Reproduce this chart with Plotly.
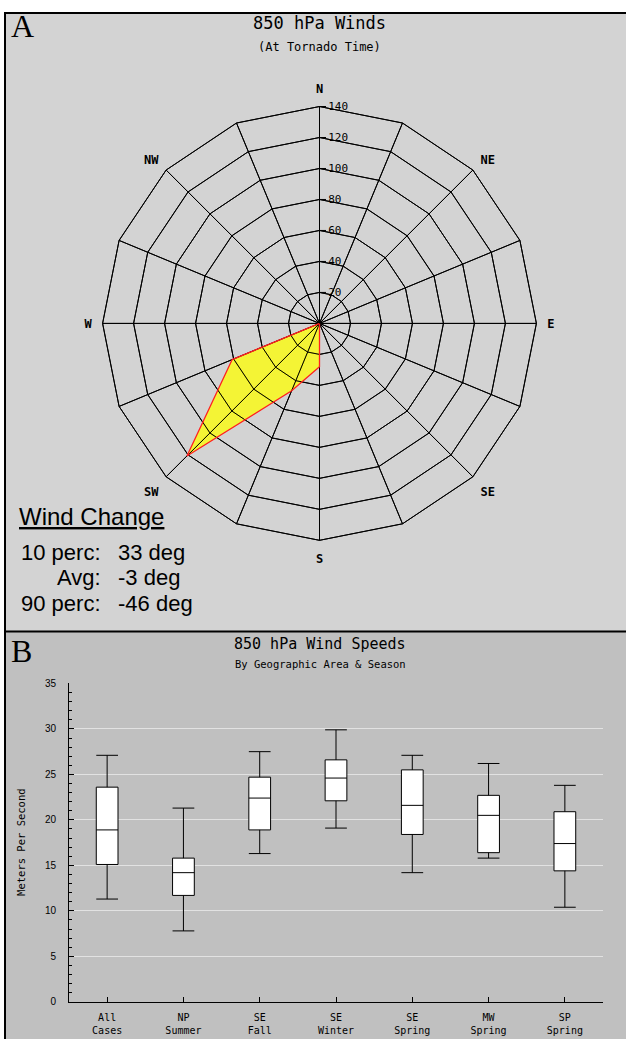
import plotly.graph_objects as go

W, H = 626, 1044

# ---------------- data ----------------
directions = ["N", "NNE", "NE", "ENE", "E", "ESE", "SE", "SSE",
              "S", "SSW", "SW", "WSW", "W", "WNW", "NW", "NNW"]
direction_labels = ["N", "", "NE", "", "E", "", "SE", "",
                    "S", "", "SW", "", "W", "", "NW", ""]
wind_r = [0, 0, 0, 0, 0, 0, 0, 0, 28, 47, 121, 61, 0, 0, 0, 0]
radial_ticks = [20, 40, 60, 80, 100, 120, 140]

change_labels = ["10 perc:", "Avg:", "90 perc:"]
change_values = ["33 deg", "-3 deg", "-46 deg"]

box_cats = ["All<br>Cases", "NP<br>Summer", "SE<br>Fall", "SE<br>Winter",
            "SE<br>Spring", "MW<br>Spring", "SP<br>Spring"]
upper_fence = [27.1, 21.3, 27.5, 29.9, 27.1, 26.2, 23.8]
q3_vals = [23.6, 15.8, 24.7, 26.6, 25.5, 22.7, 20.9]
median_vals = [18.9, 14.2, 22.4, 24.6, 21.6, 20.5, 17.4]
q1_vals = [15.1, 11.7, 18.9, 22.1, 18.4, 16.4, 14.4]
lower_fence = [11.3, 7.8, 16.3, 19.1, 14.2, 15.8, 10.4]


def px(x):
    return x / W


def py(y):
    return 1 - y / H


MONO = "DejaVu Sans Mono"
polar_domain = dict(x=[px(100.5), px(538.5)], y=[py(540.5), py(102.5)])

fig = go.Figure()

# wind polygon fill (under the grid)
fig.add_trace(go.Scatterpolar(
    r=wind_r + [wind_r[0]],
    theta=directions + [directions[0]],
    mode="lines",
    fill="toself",
    fillcolor="rgba(255,255,0,0.75)",
    line=dict(color="rgba(0,0,0,0)", width=0),
    subplot="polar",
    showlegend=False,
    hoverinfo="skip",
))

# wind polygon outline (above the grid)
fig.add_trace(go.Scatterpolar(
    r=wind_r + [wind_r[0]],
    theta=directions + [directions[0]],
    mode="lines",
    line=dict(color="#ff2020", width=1.3),
    subplot="polar2",
    showlegend=False,
    hoverinfo="skip",
))

# box plot
fig.add_trace(go.Box(
    x=box_cats,
    q1=q1_vals, median=median_vals, q3=q3_vals,
    lowerfence=lower_fence, upperfence=upper_fence,
    fillcolor="white",
    line=dict(color="black", width=1),
    whiskerwidth=1,
    width=0.285,
    boxpoints=False,
    showlegend=False,
    xaxis="x", yaxis="y",
))

shapes = [
    dict(type="rect", xref="paper", yref="paper", x0=px(5), x1=px(626), y0=py(632), y1=py(8),
         fillcolor="#d3d3d3", line=dict(width=0), layer="below"),
    dict(type="rect", xref="paper", yref="paper", x0=px(5), x1=px(626), y0=py(1044), y1=py(633),
         fillcolor="#c0c0c0", line=dict(width=0), layer="below"),
    dict(type="line", xref="paper", yref="paper", x0=px(5), x1=px(5), y0=py(1044), y1=py(7),
         line=dict(color="black", width=2), layer="below"),
    dict(type="line", xref="paper", yref="paper", x0=px(4), x1=px(626), y0=py(8), y1=py(8),
         line=dict(color="black", width=2), layer="below"),
    dict(type="line", xref="paper", yref="paper", x0=px(4), x1=px(626), y0=py(632.5), y1=py(632.5),
         line=dict(color="black", width=2), layer="below"),
]

annotations = [
    dict(text="A", x=px(9), y=py(21), xanchor="left", yanchor="middle",
         font=dict(family="Liberation Serif", size=32, color="black")),
    dict(text="B", x=px(9), y=py(652), xanchor="left", yanchor="middle",
         font=dict(family="Liberation Serif", size=32, color="black")),
    dict(text="850 hPa Winds", x=px(319), y=py(18), xanchor="center", yanchor="middle",
         font=dict(family=MONO, size=17, color="black")),
    dict(text="(At Tornado Time)", x=px(319), y=py(42), xanchor="center", yanchor="middle",
         font=dict(family=MONO, size=12, color="black")),
    dict(text="850 hPa Wind Speeds", x=px(320), y=py(645), xanchor="center", yanchor="middle",
         font=dict(family=MONO, size=15, color="black")),
    dict(text="By Geographic Area & Season", x=px(320), y=py(665), xanchor="center", yanchor="middle",
         font=dict(family=MONO, size=10.5, color="black")),
    dict(text="<u>Wind Change</u>", x=px(17), y=py(516), xanchor="left", yanchor="middle",
         font=dict(family="Liberation Sans", size=24, color="black")),
    dict(text="Meters Per Second", x=px(21), y=py(846), xanchor="center", yanchor="middle",
         textangle=-90, font=dict(family=MONO, size=10.5, color="black")),
]
row_y = [553, 578, 604]
for lab, val, yy in zip(change_labels, change_values, row_y):
    annotations.append(dict(text=lab, x=px(103), y=py(yy), xanchor="right", yanchor="middle",
                            font=dict(family="Liberation Sans", size=22, color="black")))
    annotations.append(dict(text=val, x=px(116), y=py(yy), xanchor="left", yanchor="middle",
                            font=dict(family="Liberation Sans", size=22, color="black")))
for a in annotations:
    a.update(xref="paper", yref="paper", showarrow=False)

angular_common = dict(
    type="category",
    categoryarray=directions,
    rotation=90,
    direction="clockwise",
    tickmode="array",
    tickvals=directions,
    showgrid=True, gridcolor="black", gridwidth=1,
    showline=True, linecolor="black", linewidth=1,
)
radial_common = dict(
    range=[0, 140],
    tickmode="array",
    tickvals=radial_ticks,
    angle=90,
    tickangle=90,
    side="clockwise",
    showgrid=True, gridcolor="black", gridwidth=1,
    showline=True, linecolor="black", linewidth=1,
)

fig.update_layout(
    width=W, height=H,
    margin=dict(l=0, r=0, t=0, b=0),
    paper_bgcolor="white",
    plot_bgcolor="white",
    shapes=shapes,
    annotations=annotations,
    polar=dict(
        domain=polar_domain,
        bgcolor="rgba(0,0,0,0)",
        gridshape="linear",
        angularaxis=dict(
            **angular_common,
            ticktext=direction_labels,
            ticks="outside", ticklen=8, tickcolor="rgba(0,0,0,0)",
            tickfont=dict(family=MONO, size=12, color="black", weight="bold"),
        ),
        radialaxis=dict(
            **radial_common,
            ticks="outside", ticklen=6, tickcolor="black",
            tickfont=dict(family=MONO, size=11, color="black"),
        ),
    ),
    polar2=dict(
        domain=polar_domain,
        bgcolor="rgba(0,0,0,0)",
        gridshape="linear",
        angularaxis=dict(
            **angular_common,
            ticktext=[""] * len(directions),
            ticks="",
            showticklabels=False,
        ),
        radialaxis=dict(
            **radial_common,
            ticks="",
            showticklabels=False,
        ),
    ),
    xaxis=dict(
        domain=[px(69), px(603)],
        anchor="y",
        type="category",
        range=[-0.5, 6.5],
        showline=True, linecolor="black", linewidth=1,
        ticks="inside", ticklen=5, tickcolor="black",
        showgrid=False,
        ticklabelstandoff=6,
        tickfont=dict(family=MONO, size=10, color="black"),
    ),
    yaxis=dict(
        domain=[py(1006.5), py(685)],
        anchor="x",
        range=[0, 35],
        tick0=0, dtick=5,
        showline=True, linecolor="black", linewidth=1,
        ticks="inside", ticklen=5, tickcolor="black",
        minor=dict(dtick=1, ticks="inside", ticklen=3, tickcolor="black", showgrid=False),
        showgrid=True, gridcolor="#e2e2e2", gridwidth=1,
        zeroline=False,
        ticklabelstandoff=10,
        tickfont=dict(family="Liberation Sans", size=10, color="black"),
    ),
)

fig.write_html("out.html")
